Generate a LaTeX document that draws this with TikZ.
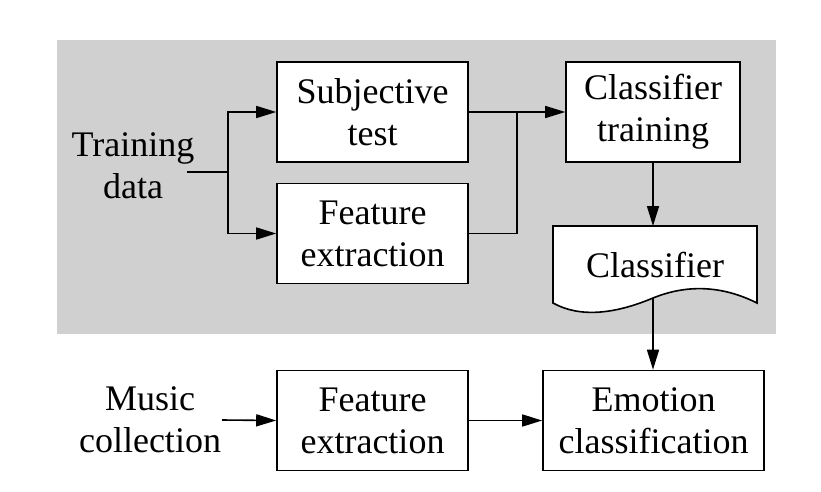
\documentclass[tikz,border=0pt]{standalone}
\usepackage{fontspec}
\setmainfont{Liberation Serif}
\usetikzlibrary{arrows.meta}
\definecolor{bggray}{RGB}{208,208,208}
\tikzset{
  box/.style={draw, line width=1.6pt, fill=white, minimum width=191pt, minimum height=100pt, align=center, inner sep=0pt},
  lbl/.style={align=center, inner sep=0pt},
  conn/.style={line width=1.6pt, -{Triangle[length=20pt,width=12pt]}},
  seg/.style={line width=1.6pt},
}
\begin{document}
\begin{tikzpicture}[x=1pt,y=-1pt, font=\fontsize{36}{42}\selectfont]
\useasboundingbox (0,0) rectangle (821,492);
\fill[bggray] (57,40) rectangle (776,334);
\node[box] (subj) at (372.5,112) {Subjective\\test};
\node[box] (feat1) at (372.5,233.5) {Feature\\extraction};
\node[box, minimum width=174pt] (ctrain) at (653,112) {Classifier\\training};
\node[box] (feat2) at (372.5,420.5) {Feature\\extraction};
\node[box, minimum width=221pt] (emo) at (653.5,420.5) {Emotion\\classification};
\node[lbl] (train) at (133,166) {Training\\data};
\node[lbl] (music) at (150,420) {Music\\collection};
% document shape
\draw[line width=1.6pt, fill=white] (553,226) -- (757,226) -- (757,303)
  .. controls (725,287) and (690,283) .. (653,298)
  .. controls (615,314) and (580,318) .. (553,303) -- cycle;
\node[lbl] (doc) at (655,265) {Classifier};
\coordinate (doctop) at (653,226);
\coordinate (docbot) at (653,298);
% connectors
\coordinate (split) at (228,172);
\coordinate (trainout) at (187,172);
\coordinate (musicout) at (222,420);
\coordinate (join) at (517,112);
\draw[seg] (trainout) -- (split);
\draw[conn] (split) |- (subj.west);
\draw[conn] (split) |- (feat1.west);
\draw[seg] (subj.east) -- (join);
\draw[seg] (feat1.east) -| (join);
\draw[conn] (join) -- (ctrain.west);
\draw[conn] (ctrain.south -| doctop) -- (doctop);
\draw[conn] (docbot) -- (emo.north -| docbot);
\draw[conn] (musicout) -- (feat2.west);
\draw[conn] (feat2.east) -- (emo.west);
\end{tikzpicture}
\end{document}
